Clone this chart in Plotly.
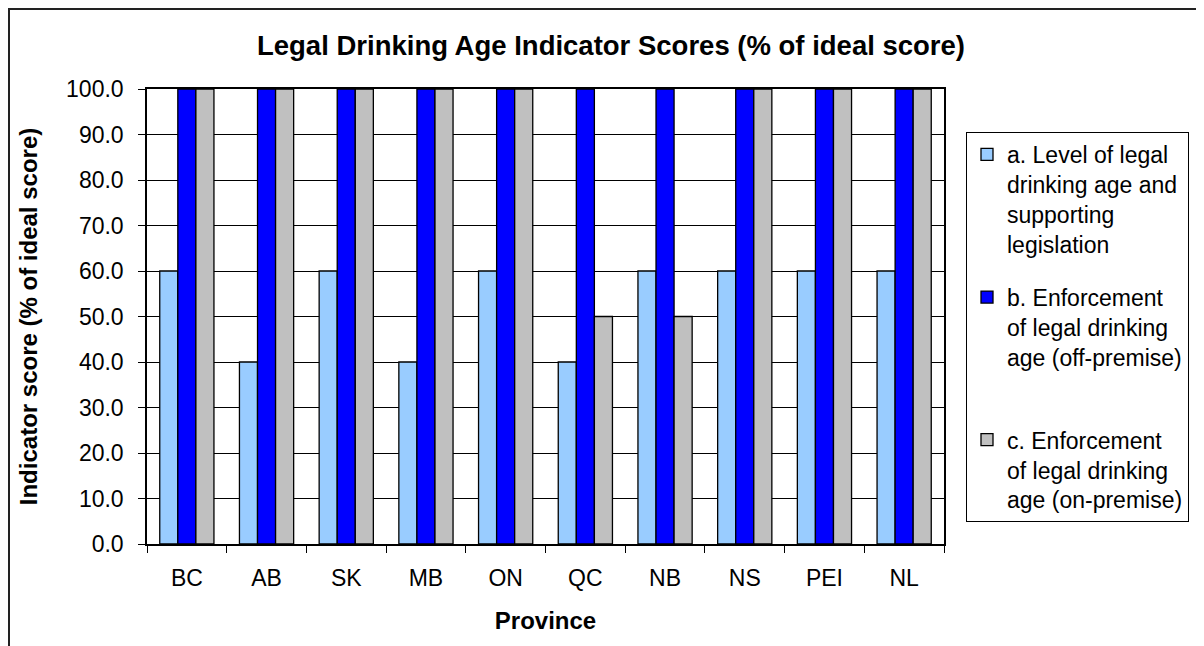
import plotly.graph_objects as go

provinces = ["BC", "AB", "SK", "MB", "ON", "QC", "NB", "NS", "PEI", "NL"]
level_legal = [60, 40, 60, 40, 60, 40, 60, 60, 60, 60]
enf_off = [100, 100, 100, 100, 100, 100, 100, 100, 100, 100]
enf_on = [100, 100, 100, 100, 100, 50, 50, 100, 100, 100]

series_names = [
    "a. Level of legal<br>drinking age and<br>supporting<br>legislation",
    "b. Enforcement<br>of legal drinking<br>age (off-premise)<br> ",
    "c. Enforcement<br>of legal drinking<br>age (on-premise)",
]
series_colors = ["#99CCFF", "#0000FF", "#C0C0C0"]
series_values = [level_legal, enf_off, enf_on]

FONT = "Liberation Sans, Arial, sans-serif"

# page has an 8px body margin; figure coords = screen coords - 8
W, H = 1196, 638
L, T, R, B = 139, 81, 260, 102
PW = W - L - R
PH = H - T - B


def px_x(sx):
    """screen x -> plot-fraction x"""
    return (sx - 8 - L) / PW


def px_y(sy):
    """screen y -> plot-fraction y"""
    return (H - B - (sy - 8)) / PH


fig = go.Figure()
for i, (name, col, vals) in enumerate(zip(series_names, series_colors, series_values)):
    fig.add_trace(go.Bar(
        x=provinces, y=vals, name=name, legendgroup=f"g{i}",
        marker=dict(color=col, line=dict(color="black", width=1.3)),
    ))

fig.update_layout(
    width=W, height=H,
    margin=dict(l=L, r=R, t=T, b=B),
    paper_bgcolor="white", plot_bgcolor="white",
    barmode="group", bargap=0.32, bargroupgap=0,
    font=dict(family=FONT, color="black", size=23),
    title=dict(text="<b>Legal Drinking Age Indicator Scores (% of ideal score)</b>",
               x=(611 - 8) / W, xanchor="center", y=1 - (45 - 8) / H, yanchor="middle",
               font=dict(family=FONT, size=27.5, color="black")),
    legend=dict(
        x=px_x(966), y=px_y(132), xanchor="left", yanchor="top",
        bordercolor="black", borderwidth=1, bgcolor="white",
        font=dict(family=FONT, size=23, color="black"),
        valign="top", tracegroupgap=20, traceorder="grouped",
    ),
    showlegend=True,
)

fig.update_xaxes(
    title=dict(text="<b>Province</b>", font=dict(family=FONT, size=24), standoff=22),
    showline=True, linecolor="black", linewidth=1.5, mirror=True,
    ticks="outside", tickson="boundaries", ticklen=7, tickcolor="black",
    ticklabelstandoff=13,
    showgrid=False,
)
fig.update_yaxes(
    title=dict(text="<b>Indicator score (% of ideal score)</b>", font=dict(family=FONT, size=24), standoff=22),
    range=[0, 100], dtick=10, tickformat=".1f",
    showline=True, linecolor="black", linewidth=1.5, mirror=True,
    ticks="outside", ticklen=7, tickcolor="black",
    ticklabelstandoff=10,
    showgrid=True, gridcolor="black", gridwidth=1,
    zeroline=False,
)

# outer chart border (left and top edges fall at the very edge of the figure)
fig.add_shape(type="rect", xref="paper", yref="paper",
              x0=(1 - L) / PW, x1=1.5, y0=-0.3, y1=(H - B - 1) / PH,
              line=dict(color="#222222", width=2), fillcolor="rgba(0,0,0,0)", layer="below")

fig.write_html("out.html")
